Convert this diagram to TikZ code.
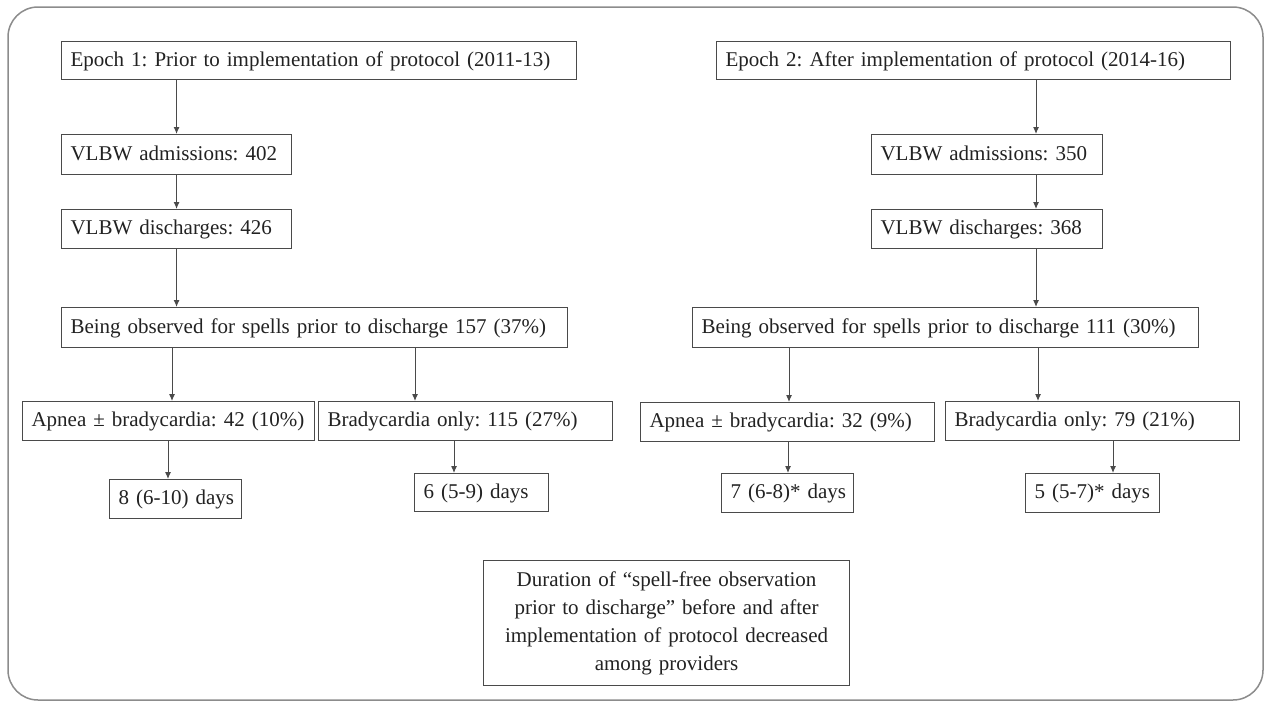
\documentclass[tikz,border=0pt]{standalone}
\usepackage{fontspec}
\setmainfont{Liberation Serif}
\usetikzlibrary{arrows.meta}
\definecolor{txt}{HTML}{222222}
\definecolor{ln}{HTML}{4A4A4A}
\definecolor{framec}{HTML}{8C8C8C}
\frenchspacing
\newcommand\bt[1]{\mbox{#1}}
\begin{document}
\begin{tikzpicture}[x=1pt,y=-1pt,
  box/.style={draw=ln, line width=1.1pt, anchor=north west, inner xsep=9pt, inner ysep=0pt,
    text height=14pt, text depth=3pt, align=left, text=txt,
    font=\fontsize{21}{25}\selectfont},
  notebox/.style={draw=ln, line width=1.1pt, anchor=north west, inner xsep=9pt, inner ysep=0pt,
    align=center, text=txt, font=\fontsize{21}{28}\selectfont},
  arr/.style={draw=ln, line width=1pt, -{Latex[length=7pt,width=6pt]}}]
\fill[white] (0,0) rectangle (1267,702);
\useasboundingbox (0,0) rectangle (1267,702);
\draw[framec, line width=1.5pt, rounded corners=30pt] (8,7) rectangle (1263,700);

% Epoch 1
\node[box, text width=497pt, minimum height=38pt] (e1) at (61,41) {\bt{Epoch 1: Prior to implementation of protocol (2011-13)}};
\node[box, text width=212pt, minimum height=40pt] (a1) at (61,134) {\bt{VLBW admissions: 402}};
\node[box, text width=212pt, minimum height=39pt] (dc1) at (61,209) {\bt{VLBW discharges: 426}};
\node[box, text width=488pt, minimum height=40pt] (ob1) at (61,307) {\bt{Being observed for spells prior to discharge 157 (37\%)}};
\node[box, text width=274pt, minimum height=39pt] (ap1) at (22,401) {\bt{Apnea ± bradycardia: 42 (10\%)}};
\node[box, text width=276pt, minimum height=39pt] (br1) at (318,401) {\bt{Bradycardia only: 115 (27\%)}};
\node[box, text width=114pt, minimum height=39pt] (d1) at (109,479) {\bt{8 (6-10) days}};
\node[box, text width=116pt, minimum height=38pt] (d2) at (414,473) {\bt{6 (5-9) days}};

% Epoch 2
\node[box, text width=496pt, minimum height=38pt] (e2) at (716,41) {\bt{Epoch 2: After implementation of protocol (2014-16)}};
\node[box, text width=213pt, minimum height=40pt] (a2) at (871,134) {\bt{VLBW admissions: 350}};
\node[box, text width=213pt, minimum height=39pt] (dc2) at (871,209) {\bt{VLBW discharges: 368}};
\node[box, text width=488pt, minimum height=40pt] (ob2) at (692,307) {\bt{Being observed for spells prior to discharge 111 (30\%)}};
\node[box, text width=276pt, minimum height=39pt] (ap2) at (640,402) {\bt{Apnea ± bradycardia: 32 (9\%)}};
\node[box, text width=276pt, minimum height=39pt] (br2) at (945,401) {\bt{Bradycardia only: 79 (21\%)}};
\node[box, text width=114pt, minimum height=39pt] (d3) at (721,473) {\bt{7 (6-8)* days}};
\node[box, text width=116pt, minimum height=39pt] (d4) at (1025,473) {\bt{5 (5-7)* days}};

% Note
\node[notebox, text width=348pt, minimum height=125pt] (note) at (483,560)
  {Duration of “spell-free observation\\ prior to discharge” before and after\\ implementation of protocol decreased\\ among providers};

% Arrows, epoch 1
\draw[arr] (e1.south -| a1.north) -- (a1.north);
\draw[arr] (a1.south) -- (dc1.north);
\draw[arr] (dc1.south) -- (ob1.north -| dc1.south);
\draw[arr] (ob1.south -| 172,0) -- (ap1.north -| 172,0);
\draw[arr] (ob1.south -| 415,0) -- (br1.north -| 415,0);
\draw[arr] (ap1.south -| 168,0) -- (d1.north -| 168,0);
\draw[arr] (br1.south -| 454,0) -- (d2.north -| 454,0);

% Arrows, epoch 2
\draw[arr] (e2.south -| 1036,0) -- (a2.north -| 1036,0);
\draw[arr] (a2.south -| 1036,0) -- (dc2.north -| 1036,0);
\draw[arr] (dc2.south -| 1036,0) -- (ob2.north -| 1036,0);
\draw[arr] (ob2.south -| 789,0) -- (ap2.north -| 789,0);
\draw[arr] (ob2.south -| 1038,0) -- (br2.north -| 1038,0);
\draw[arr] (ap2.south -| 788,0) -- (d3.north -| 788,0);
\draw[arr] (br2.south -| 1113,0) -- (d4.north -| 1113,0);
\end{tikzpicture}
\end{document}
